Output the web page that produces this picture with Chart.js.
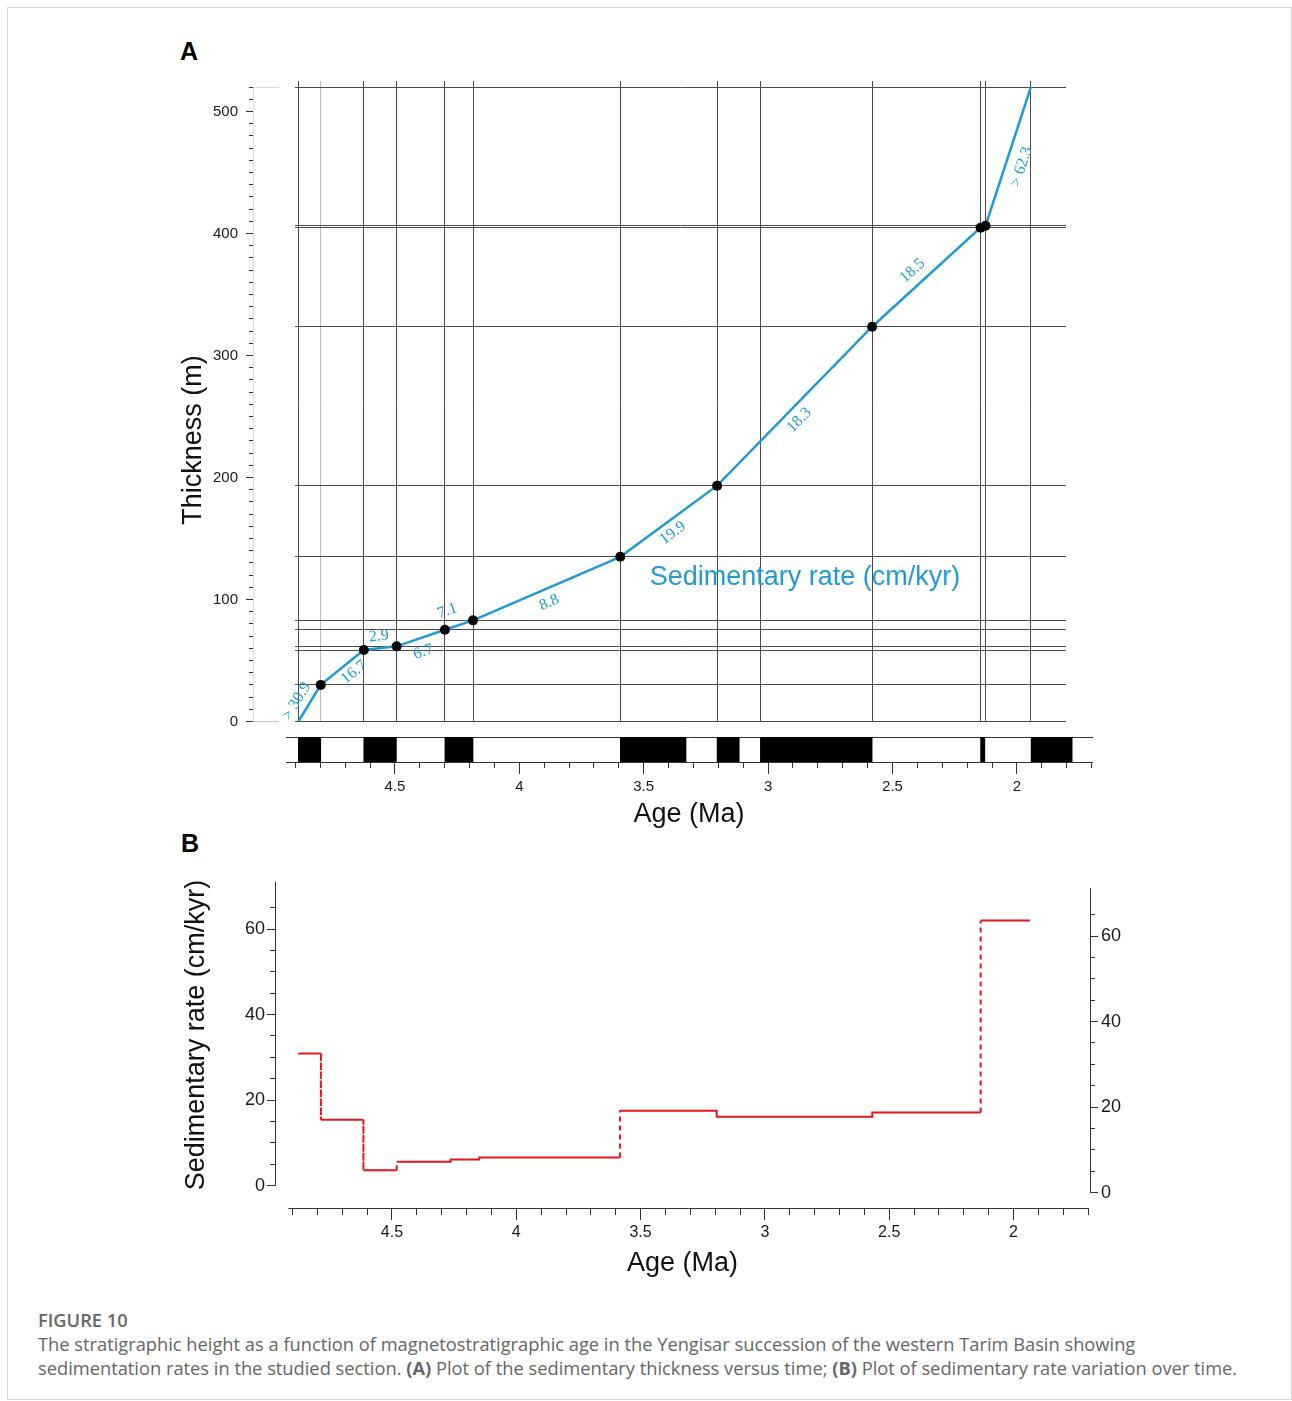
<!DOCTYPE html>
<html>
<head>
<meta charset="utf-8">
<title>Figure 10 - Yengisar sedimentation rates</title>
<script src="https://cdn.jsdelivr.net/npm/chart.js"></script>
<style>
  html, body { margin: 0; padding: 0; background: #fff; }
  body { width: 1292px; height: 1401px; position: relative; overflow: hidden;
         font-family: 'Liberation Sans', Arial, Helvetica, sans-serif; }
  .frame { position: absolute; left: 7px; top: 7px; width: 1283px; height: 1391px; border: 1px solid #d6d6d6; }
  canvas { position: absolute; }
  .panel { position: absolute; font-weight: bold; font-size: 25px; line-height: 25px; color: #000; }
  .caption { position: absolute; left: 38px; top: 1308px; font-family: 'Open Sans', 'Noto Sans', sans-serif;
             color: #666; font-size: 18.3px; line-height: 24px; white-space: nowrap; }
  .caption .fig { font-weight: 600; }
  .caption b { font-weight: 700; }
</style>
</head>
<body>
<div class="frame"></div>
<div class="panel" style="left:180px; top:39px;">A</div>
<div class="panel" style="left:181px; top:831px;">B</div>

<canvas id="columnChart" width="102" height="760" style="left:177px; top:60px;"></canvas>
<canvas id="ageChart" width="850" height="680" style="left:255px; top:60px;"></canvas>
<canvas id="stripChart" width="840" height="120" style="left:270px; top:720px;"></canvas>
<canvas id="rateChart" width="960" height="450" style="left:170px; top:840px;"></canvas>

<div class="caption">
  <div class="fig">FIGURE 10</div>
  <div>The stratigraphic height as a function of magnetostratigraphic age in the Yengisar succession of the western Tarim Basin showing</div>
  <div>sedimentation rates in the studied section. <b>(A)</b> Plot of the sedimentary thickness versus time; <b>(B)</b> Plot of sedimentary rate variation over time.</div>
</div>

<script>
// ---- data ----

// tie points: age (Ma) and stratigraphic thickness (m)
const tieAges = [4.888, 4.798, 4.625, 4.493, 4.299, 4.186, 3.594, 3.205, 2.582, 2.146, 2.126, 1.944];
const tieThickness = [0, 30, 58.6, 61.6, 75.2, 82.9, 135, 193.3, 323.6, 404.8, 406.4, 520];
// rate (cm/kyr) written along each segment, null = no label
const segmentRates = ['> 30.9', '16.7', '2.9', '6.7', '7.1', '8.8', '19.9', '18.3', '18.5', null, '> 62.3'];
// extra correlation line without a tie point
const extraAgeLines = [3.031];

// GPTS normal polarity chrons (Ma)
const chronStart = [4.888, 4.625, 4.299, 3.594, 3.205, 3.031, 2.146, 1.943];
const chronEnd = [4.798, 4.494, 4.186, 3.330, 3.116, 2.582, 2.129, 1.778];

// section polarity column (m)
const sectionTop = 520;
const normalBase = [0, 58, 75, 135];
const normalTop = [30, 62, 83, 323.6];
const greyBase = [188, 284.5, 327, 405];
const greyTop = [193, 287.5, 333, 406.5];

// panel B: step boundaries (Ma) and rate of each step (cm/kyr)
const rateBounds = [4.877, 4.786, 4.615, 4.481, 4.264, 4.149, 3.583, 3.194, 2.568, 2.132, 1.934];
const rateValues = [30.9, 15.4, 3.6, 5.6, 6.1, 6.6, 17.5, 16.1, 17.1, 62.0];

// tick labels
const ageTicks = [4.5, 4, 3.5, 3, 2.5, 2];
const thicknessTicks = [0, 100, 200, 300, 400, 500];
const rateTicks = [0, 20, 40, 60];

// ---- styling ----
const BLUE = '#1f9bd7';
const RED = '#e8141b';
const INK = '#1a1a1a';
const AXIS = '#333333';
const GRID = '#4a4a4a';

Chart.defaults.font.family = "'Liberation Sans', Arial, Helvetica, sans-serif";
Chart.defaults.color = INK;
Chart.defaults.responsive = false;
Chart.defaults.animation = false;
Chart.defaults.events = [];
Chart.defaults.plugins.legend.display = false;
Chart.defaults.plugins.tooltip.enabled = false;

function steps(lo, hi, step) {
  const out = [];
  const n = Math.round((hi - lo) / step);
  for (let i = 0; i <= n; i++) out.push(+(lo + i * step).toFixed(6));
  return out;
}

function fixSize(px) {
  return (scale) => {
    if (scale.isHorizontal()) scale.height = px;
    else scale.width = px;
  };
}

function setTicks(values) {
  return (scale) => { scale.ticks = values.map(v => ({ value: v })); };
}

// tick marks only, sits right against the plot area
function minorAxis(position, min, max, values, len, extra) {
  return Object.assign({
    type: 'linear', position, min, max, weight: 0,
    ticks: { display: false },
    grid: { drawOnChartArea: false, tickLength: len, color: AXIS, lineWidth: 1 },
    border: { display: false },
    afterBuildTicks: setTicks(values),
    afterFit: fixSize(len)
  }, extra || {});
}

// labelled axis stacked outside the minor one, so major ticks look longer
function majorAxis(position, min, max, values, len, size, fontSize, pad, title, extra) {
  return Object.assign({
    type: 'linear', position, min, max, weight: 1,
    ticks: { font: { size: fontSize }, padding: pad, color: INK, autoSkip: false, maxRotation: 0,
             callback: v => String(v) },
    grid: { drawOnChartArea: false, tickLength: len, color: AXIS, lineWidth: 1 },
    border: { display: false },
    title: title ? { display: true, text: title, font: { size: 27 }, color: '#111', padding: 0 }
                 : { display: false },
    afterBuildTicks: setTicks(values),
    afterFit: fixSize(size)
  }, extra || {});
}

// ---- panel A: section polarity column with thickness axis ----
// range extends below 0 so the axis title centres where the original has it
const colMin = -63.52, colMax = 525;
const columnSets = [{ data: [[0, sectionTop]], backgroundColor: '#fff', borderColor: '#d0d0d0',
                      borderWidth: { top: 1, left: 1, right: 0, bottom: 0 }, borderSkipped: false }];
normalBase.forEach((b, i) => columnSets.push({ data: [[b, normalTop[i]]], backgroundColor: '#000' }));
greyBase.forEach((b, i) => columnSets.push({ data: [[b, greyTop[i]]], backgroundColor: '#9b9b9b' }));
columnSets.forEach(ds => Object.assign(ds, { grouped: false, barPercentage: 1, categoryPercentage: 1 }));

new Chart(document.getElementById('columnChart'), {
  type: 'bar',
  data: { labels: ['section'], datasets: columnSets },
  options: {
    layout: { padding: { left: 0, right: 0, top: 21, bottom: 21 } },
    scales: {
      x: { type: 'category', display: false },
      y: minorAxis('left', colMin, colMax, steps(0, 520, 10), 4),
      yMajor: majorAxis('left', colMin, colMax, thicknessTicks, 3, 72, 15, 8, 'Thickness (m)')
    }
  }
});

// ---- panel A: thickness vs age ----
const labelPlacement = [[0.38, 12], [0.61, -11], [0.5, 12], [0.46, -14], [0.28, 17], [0.48, -14],
                        [0.47, -12], [0.47, -13], [0.46, 14], null, [0.46, -16]];

const segmentLabels = {
  id: 'segmentLabels',
  afterDatasetsDraw(chart) {
    const pts = chart.getDatasetMeta(0).data;
    const { ctx, scales } = chart;
    ctx.save();
    ctx.fillStyle = BLUE;
    ctx.textAlign = 'center';
    ctx.textBaseline = 'middle';
    ctx.font = "16px 'Liberation Serif', 'Times New Roman', serif";
    segmentRates.forEach((text, i) => {
      if (!text) return;
      const a = pts[i], b = pts[i + 1];
      const [t, d] = labelPlacement[i];
      const dx = b.x - a.x, dy = b.y - a.y;
      const len = Math.hypot(dx, dy);
      ctx.save();
      ctx.translate(a.x + dx * t + dy / len * d, a.y + dy * t - dx / len * d);
      ctx.rotate(Math.atan2(dy, dx));
      ctx.fillText(text, 0, 0);
      ctx.restore();
    });
    ctx.font = "27px 'Liberation Sans', Arial, sans-serif";
    ctx.fillText('Sedimentary rate (cm/kyr)', scales.x.getPixelForValue(2.852), scales.y.getPixelForValue(118.4));
    ctx.restore();
  }
};

new Chart(document.getElementById('ageChart'), {
  type: 'scatter',
  data: {
    datasets: [{
      data: tieAges.map((a, i) => ({ x: a, y: tieThickness[i] })),
      showLine: true,
      borderColor: BLUE,
      borderWidth: 2.5,
      pointRadius: ctx => (ctx.dataIndex === 0 || ctx.dataIndex === tieAges.length - 1) ? 0 : 5,
      pointBackgroundColor: '#000',
      pointBorderWidth: 0,
      clip: 4
    }]
  },
  options: {
    layout: { padding: { left: 40, right: 39, top: 21, bottom: 18.5 } },
    scales: {
      x: {
        type: 'linear', reverse: true, min: 1.8027, max: 4.9015,
        ticks: { display: false }, border: { display: false },
        grid: { drawTicks: false, lineWidth: 1,
                color: ctx => (ctx.tick && ctx.tick.value === 4.798) ? '#b8b8b8' : GRID },
        afterBuildTicks: setTicks(tieAges.concat(extraAgeLines))
      },
      y: {
        type: 'linear', min: 0, max: 525,
        ticks: { display: false }, border: { display: false },
        grid: { drawTicks: false, lineWidth: 1, color: GRID },
        afterBuildTicks: setTicks(tieThickness)
      }
    }
  },
  plugins: [segmentLabels]
});

// ---- panel A: GPTS strip and age axis ----
const stripMin = 1.6982, stripMax = 4.9377;
new Chart(document.getElementById('stripChart'), {
  type: 'bar',
  data: {
    labels: ['GPTS'],
    datasets: chronStart.map((s, i) => ({
      data: [[s, chronEnd[i]]], backgroundColor: '#000', xAxisID: 'x',
      grouped: false, barPercentage: 1, categoryPercentage: 1
    }))
  },
  options: {
    indexAxis: 'y',
    layout: { padding: { left: 16, right: 18, top: 17, bottom: 9 } },
    scales: {
      y: { type: 'category', display: false },
      xTop: { type: 'linear', position: 'top', min: stripMin, max: stripMax, reverse: true,
              ticks: { display: false }, grid: { display: false, drawTicks: false },
              border: { display: true, color: AXIS, width: 1 }, afterFit: fixSize(0) },
      x: minorAxis('bottom', stripMin, stripMax, steps(1.7, 4.9, 0.1), 6,
                   { reverse: true, border: { display: true, color: AXIS, width: 1 } }),
      xMajor: majorAxis('bottom', stripMin, stripMax, ageTicks, 6, 63, 15, 4, 'Age (Ma)', { reverse: true })
    }
  }
});

// ---- panel B: sedimentation rate steps ----
const ratePoints = [];
rateValues.forEach((r, i) => {
  ratePoints.push({ x: rateBounds[i], y: r }, { x: rateBounds[i + 1], y: r });
});

// vertical jumps are dashed, the small offsets stay solid
const isJump = ctx => ctx.p0.parsed.x === ctx.p1.parsed.x && Math.abs(ctx.p0.parsed.y - ctx.p1.parsed.y) > 1.5;

// axis lines that stop at the end of the ticks instead of the plot edge
const axisLines = {
  id: 'axisLines',
  afterDraw(chart) {
    const { ctx, chartArea, scales } = chart;
    const snap = v => Math.round(v - 0.5) + 0.5;
    ctx.save();
    ctx.strokeStyle = AXIS;
    ctx.lineWidth = 1;
    ctx.beginPath();
    ctx.moveTo(snap(chartArea.left), scales.y.getPixelForValue(0));
    ctx.lineTo(snap(chartArea.left), scales.y.getPixelForValue(71.05));
    ctx.moveTo(snap(chartArea.right), scales.yR.getPixelForValue(0));
    ctx.lineTo(snap(chartArea.right), scales.yR.getPixelForValue(71.16));
    ctx.moveTo(scales.x.getPixelForValue(4.917), snap(chartArea.bottom));
    ctx.lineTo(scales.x.getPixelForValue(1.696), snap(chartArea.bottom));
    ctx.stroke();
    ctx.restore();
  }
};

const bMin = 1.6922, bMax = 4.9706;
const leftMin = -5.21, leftMax = 75.67;
const rightMin = -3.58, rightMax = 77.30;

new Chart(document.getElementById('rateChart'), {
  type: 'scatter',
  data: {
    datasets: [{
      data: ratePoints,
      showLine: true,
      borderColor: RED,
      borderWidth: 2,
      pointRadius: 0,
      xAxisID: 'x',
      yAxisID: 'y',
      segment: { borderDash: ctx => isJump(ctx) ? [5, 4] : undefined }
    }]
  },
  options: {
    layout: { padding: { left: 10, right: 0, top: 22, bottom: 10 } },
    scales: {
      x: minorAxis('bottom', bMin, bMax, steps(1.7, 4.9, 0.1), 7, { reverse: true }),
      xMajor: majorAxis('bottom', bMin, bMax, ageTicks, 5, 65, 16, 3, 'Age (Ma)', { reverse: true }),
      y: minorAxis('left', leftMin, leftMax, steps(0, 65, 5), 5),
      yMajor: majorAxis('left', leftMin, leftMax, rateTicks, 3, 90, 18, 2, 'Sedimentary rate (cm/kyr)'),
      yR: minorAxis('right', rightMin, rightMax, steps(0, 65, 5), 5),
      yRMajor: majorAxis('right', rightMin, rightMax, rateTicks, 3, 35, 18, 3, null)
    }
  },
  plugins: [axisLines]
});
</script>
</body>
</html>
